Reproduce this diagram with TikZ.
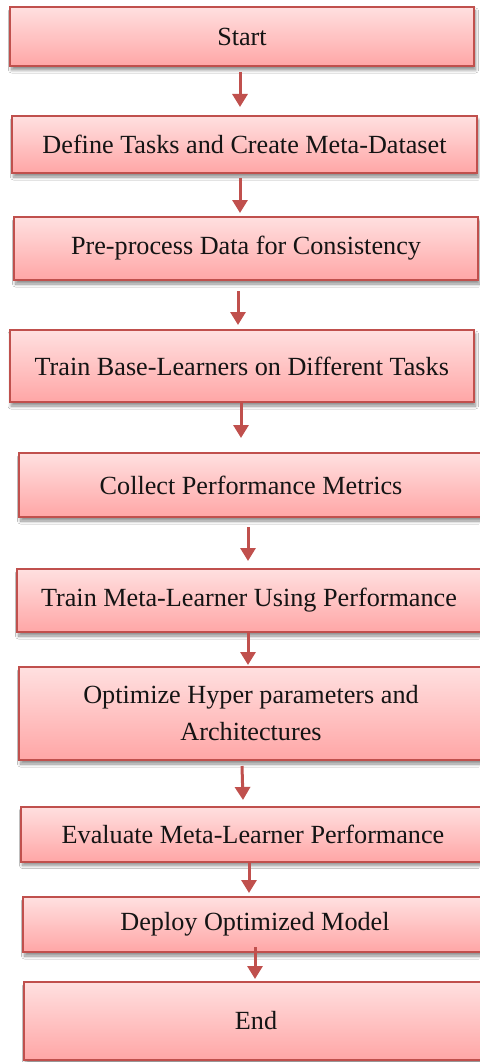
\documentclass[tikz,border=0pt]{standalone}
\usepackage{fontspec}
\setmainfont{Liberation Serif}
\usetikzlibrary{arrows.meta,shadows.blur}
\definecolor{edge}{HTML}{C0504D}
\definecolor{pktop}{HTML}{FFE0E0}
\definecolor{pkbot}{HTML}{FFA6A6}
\definecolor{ink}{HTML}{141414}
\begin{document}
\begin{tikzpicture}[x=1pt,y=-1pt,
  stepbox/.style={draw=edge, line width=2pt, top color=pktop, bottom color=pkbot,
    minimum width=464pt, inner sep=0pt, outer sep=0pt, text=ink,
    font=\fontsize{26.2}{37}\selectfont, align=center,
    blur shadow={shadow xshift=1.5pt, shadow yshift=-4pt, shadow blur radius=3pt,
      shadow blur steps=8, shadow opacity=45}},
  arr/.style={draw=edge, line width=3pt, -{Triangle[width=15pt,length=13pt]}}]
\useasboundingbox (0,0) rectangle (479,1062);
\fill[white] (0,0) rectangle (479,1062);

% process steps
\node[stepbox, minimum height=59pt] (s1) at (242,36.5) {Start};
\node[stepbox, minimum height=57pt, minimum width=465pt] (s2) at (244.5,144.5) {Define Tasks and Create Meta-Dataset};
\node[stepbox, minimum height=63pt] (s3) at (246,248.5) {Pre-process Data for Consistency};
\node[stepbox, minimum height=72pt, minimum width=464.5pt] (s4) at (241.75,366) {Train Base-Learners on Different Tasks};
\node[stepbox, minimum height=64pt] (s5) at (251,485) {Collect Performance Metrics};
\node[stepbox, minimum height=63pt] (s6) at (249,600.5) {Train Meta-Learner Using Performance};
\node[stepbox, minimum height=93pt] (s7) at (251,713.5) {Optimize Hyper parameters and\\Architectures};
\node[stepbox, minimum height=55pt] (s8) at (253,834) {Evaluate Meta-Learner Performance};
\node[stepbox, minimum height=55pt] (s9) at (255,924.5) {Deploy Optimized Model};
\node[stepbox, minimum height=78pt] (s10) at (256,1021) {End};

% connectors between consecutive steps
\draw[arr] ([xshift=-2pt,yshift=-6pt]s1.south) -- ([xshift=-4.5pt,yshift=9pt]s2.north);
\draw[arr] ([xshift=-4.5pt,yshift=-5pt]s2.south) -- ([xshift=-6pt,yshift=4pt]s3.north);
\draw[arr] ([xshift=-8pt,yshift=-11pt]s3.south) -- ([xshift=-3.75pt,yshift=5pt]s4.north);
\draw[arr] ([xshift=-0.75pt,yshift=-1pt]s4.south) -- ([xshift=-10pt,yshift=15pt]s5.north);
\draw[arr] ([xshift=-3pt,yshift=-10pt]s5.south) -- ([xshift=-1pt,yshift=8pt]s6.north);
\draw[arr] ([xshift=-1pt,yshift=-1pt]s6.south) -- ([xshift=-3pt,yshift=2pt]s7.north);
\draw[arr] ([xshift=-9pt,yshift=-6pt]s7.south) -- ([xshift=-10pt,yshift=6.5pt]s8.north);
\draw[arr] ([xshift=-4pt,yshift=-1pt]s8.south) -- ([xshift=-6pt,yshift=4pt]s9.north);
\draw[arr] ([xshift=0pt,yshift=5pt]s9.south) -- ([xshift=-1pt,yshift=3pt]s10.north);
\end{tikzpicture}
\end{document}
